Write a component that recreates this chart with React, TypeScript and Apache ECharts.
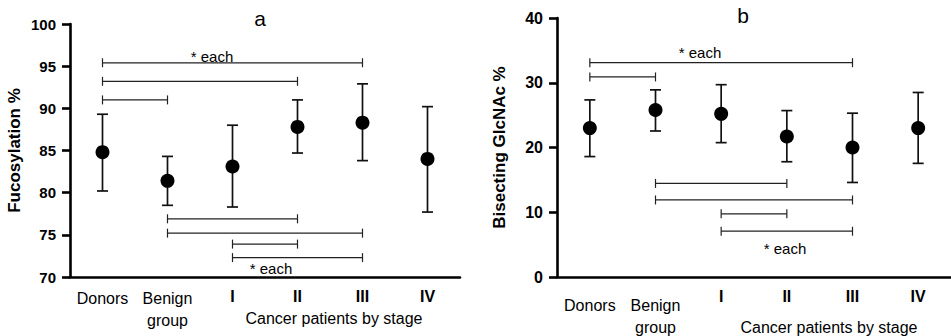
import React, { useEffect, useRef } from "react";
import * as echarts from "echarts";

const categories = ["Donors", "Benign\ngroup", "I", "II", "III", "IV"];

// Panel a: fucosylation %
const fucMean = [84.8, 81.4, 83.1, 87.8, 88.3, 84.0];
const fucLow = [80.2, 78.5, 78.3, 84.7, 83.8, 77.7];
const fucHigh = [89.3, 84.3, 88.0, 91.0, 92.9, 90.2];
// brackets: [fromIndex, toIndex, level]
const fucBrackets = [
  [0, 4, 95.4],
  [0, 3, 93.2],
  [0, 1, 91.0],
  [1, 3, 76.9],
  [1, 4, 75.2],
  [2, 3, 73.9],
  [2, 4, 72.3],
];
const fucTicks = { min: 70, max: 100, interval: 5 };

// Panel b: bisecting GlcNAc %
const bisMean = [23.0, 25.8, 25.2, 21.7, 20.0, 23.0];
const bisLow = [18.6, 22.55, 20.75, 17.8, 14.6, 17.55];
const bisHigh = [27.35, 28.9, 29.7, 25.7, 25.3, 28.5];
const bisBrackets = [
  [0, 4, 33.1],
  [0, 1, 30.9],
  [1, 3, 14.45],
  [1, 4, 11.9],
  [2, 3, 9.75],
  [2, 4, 7.07],
];
const bisTicks = { min: 0, max: 40, interval: 10 };

const FONT = "'Liberation Sans', Arial, Helvetica, sans-serif";

function errorBarSeries(low: number[], high: number[], xi: number, yi: number) {
  return {
    type: "custom",
    xAxisIndex: xi,
    yAxisIndex: yi,
    z: 2,
    silent: true,
    data: low.map((l, i) => [i, l, high[i]]),
    renderItem: (params: any, api: any) => {
      const lo = api.coord([api.value(0), api.value(1)]);
      const hi = api.coord([api.value(0), api.value(2)]);
      const w = 5.5;
      const st = { stroke: "#111", lineWidth: 1.7 };
      return {
        type: "group",
        children: [
          { type: "line", shape: { x1: lo[0], y1: lo[1], x2: hi[0], y2: hi[1] }, style: st },
          { type: "line", shape: { x1: hi[0] - w, y1: hi[1], x2: hi[0] + w, y2: hi[1] }, style: st },
          { type: "line", shape: { x1: lo[0] - w, y1: lo[1], x2: lo[0] + w, y2: lo[1] }, style: st },
        ],
      };
    },
  };
}

function bracketSeries(br: number[][], xi: number, yi: number) {
  return {
    type: "custom",
    xAxisIndex: xi,
    yAxisIndex: yi,
    z: 2,
    silent: true,
    data: br,
    renderItem: (params: any, api: any) => {
      const a = api.coord([api.value(0), api.value(2)]);
      const b = api.coord([api.value(1), api.value(2)]);
      const h = 4.5;
      const st = { stroke: "#222", lineWidth: 1.2 };
      return {
        type: "group",
        children: [
          { type: "line", shape: { x1: a[0], y1: a[1], x2: b[0], y2: b[1] }, style: st },
          { type: "line", shape: { x1: a[0], y1: a[1] - h, x2: a[0], y2: a[1] + h }, style: st },
          { type: "line", shape: { x1: b[0], y1: b[1] - h, x2: b[0], y2: b[1] + h }, style: st },
        ],
      };
    },
  };
}

function meanSeries(mean: number[], xi: number, yi: number) {
  return {
    type: "scatter",
    xAxisIndex: xi,
    yAxisIndex: yi,
    z: 3,
    symbol: "circle",
    symbolSize: 14,
    itemStyle: { color: "#000", opacity: 1 },
    data: mean,
  };
}

const richStyles = {
  n: { fontSize: 16, lineHeight: 22, fontFamily: FONT, color: "#000" },
  r: { fontSize: 16, lineHeight: 18, fontFamily: FONT, fontWeight: "bold", color: "#000" },
};

const nameFmt = (v: string) =>
  v
    .split("\n")
    .map((s) => `{n|${s}}`)
    .join("\n");

function yAxis(grid: number, t: { min: number; max: number; interval: number }, name: string, gap: number, fs: number) {
  return {
    type: "value",
    gridIndex: grid,
    min: t.min,
    max: t.max,
    interval: t.interval,
    name,
    nameLocation: "middle",
    nameGap: gap,
    nameTextStyle: { fontFamily: FONT, fontWeight: "bold", fontSize: 17, color: "#000" },
    splitLine: { show: false },
    axisLine: { show: true, lineStyle: { color: "#000", width: 2.6 } },
    axisTick: { show: true, length: 8, lineStyle: { color: "#000", width: 2.6 } },
    axisLabel: { margin: 14, fontFamily: FONT, fontWeight: "bold", fontSize: fs, color: "#000" },
  };
}

export default function App() {
  const ref = useRef<HTMLDivElement>(null);
  useEffect(() => {
    if (!ref.current) return;
    const chart = echarts.init(ref.current, undefined, { renderer: "svg" });
    const option: any = {
      animation: false,
      backgroundColor: "#fff",
      grid: [
        { left: 70, top: 24, width: 390, height: 253 },
        { left: 557, top: 18, width: 399, height: 259 },
      ],
      xAxis: [
        {
          type: "category",
          gridIndex: 0,
          data: categories,
          boundaryGap: true,
          axisLine: { show: true, lineStyle: { color: "#000", width: 2.6 } },
          axisTick: { show: false },
          axisLabel: {
            interval: 0,
            margin: 10,
            formatter: (v: string, i: number) => (i < 2 ? nameFmt(v) : `{r|${v}}`),
            rich: richStyles,
          },
        },
        {
          type: "category",
          gridIndex: 1,
          position: "bottom",
          data: categories,
          boundaryGap: true,
          axisLine: { show: true, lineStyle: { color: "#000", width: 2.6 } },
          axisTick: { show: false },
          axisLabel: {
            interval: 0,
            margin: 17,
            formatter: (v: string, i: number) => (i < 2 ? nameFmt(v) : ""),
            rich: richStyles,
          },
        },
        {
          type: "category",
          gridIndex: 1,
          position: "bottom",
          data: categories,
          boundaryGap: true,
          axisLine: { show: false },
          axisTick: { show: false },
          axisLabel: {
            interval: 0,
            margin: 10,
            formatter: (v: string, i: number) => (i < 2 ? "" : `{r|${v}}`),
            rich: richStyles,
          },
        },
      ],
      yAxis: [
        yAxis(0, fucTicks, "Fucosylation %", 47, 15),
        yAxis(1, bisTicks, "Bisecting GlcNAc %", 49, 16),
      ],
      graphic: [
        { type: "text", x: 260, y: 18, style: { text: "a", font: `21px ${FONT}`, fill: "#000", align: "center", verticalAlign: "middle" } },
        { type: "text", x: 743, y: 15, style: { text: "b", font: `21px ${FONT}`, fill: "#000", align: "center", verticalAlign: "middle" } },
        { type: "text", x: 212, y: 56, style: { text: "* each", font: `15px ${FONT}`, fill: "#000", align: "center", verticalAlign: "middle" } },
        { type: "text", x: 271, y: 268, style: { text: "* each", font: `15px ${FONT}`, fill: "#000", align: "center", verticalAlign: "middle" } },
        { type: "text", x: 700, y: 52, style: { text: "* each", font: `15px ${FONT}`, fill: "#000", align: "center", verticalAlign: "middle" } },
        { type: "text", x: 785, y: 248, style: { text: "* each", font: `15px ${FONT}`, fill: "#000", align: "center", verticalAlign: "middle" } },
        { type: "text", x: 334, y: 318, style: { text: "Cancer patients by stage", font: `16px ${FONT}`, fill: "#000", align: "center", verticalAlign: "middle" } },
        { type: "text", x: 829, y: 327, style: { text: "Cancer patients by stage", font: `16px ${FONT}`, fill: "#000", align: "center", verticalAlign: "middle" } },
      ],
      series: [
        errorBarSeries(fucLow, fucHigh, 0, 0),
        bracketSeries(fucBrackets, 0, 0),
        meanSeries(fucMean, 0, 0),
        errorBarSeries(bisLow, bisHigh, 1, 1),
        bracketSeries(bisBrackets, 1, 1),
        meanSeries(bisMean, 1, 1),
      ],
    };
    chart.setOption(option);
    return () => chart.dispose();
  }, []);
  return (
    <div
      ref={ref}
      style={{ position: "absolute", left: 0, top: 0, width: 951, height: 336, background: "#fff" }}
    />
  );
}
